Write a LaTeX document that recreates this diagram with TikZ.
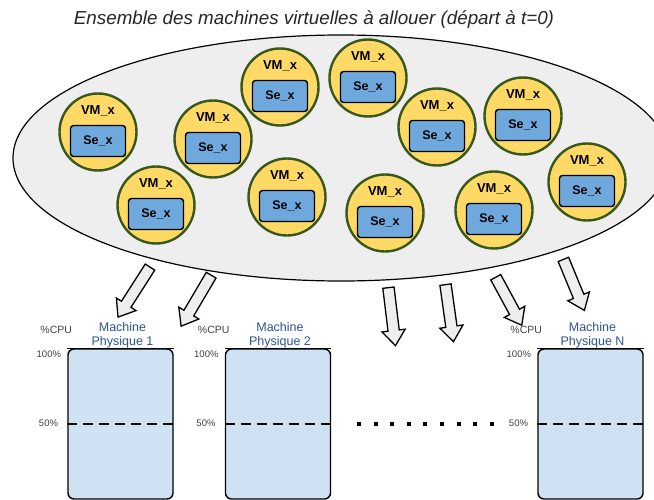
\documentclass[tikz,border=0pt]{standalone}
\usepackage{fontspec}
\setmainfont{Liberation Sans}
\usepackage{tikz}
\usetikzlibrary{positioning,shapes.arrows,shapes.geometric,calc}

\definecolor{vmfill}{HTML}{FFD966}
\definecolor{vmedge}{HTML}{38571A}
\definecolor{sefill}{HTML}{6FA8DC}
\definecolor{pmfill}{HTML}{CFE2F3}
\definecolor{pmtext}{HTML}{2B5592}
\definecolor{cloud}{HTML}{EEEEEE}

\begin{document}
\begin{tikzpicture}[x=1pt,y=-1pt,semithick]
\tikzstyle{vm}=[circle,fill=vmfill,draw=vmedge,line width=2.4pt,minimum size=77pt,inner sep=0pt]
\tikzstyle{se}=[rectangle,rounded corners=3pt,fill=sefill,draw=black,line width=1.4pt,minimum width=55pt,minimum height=31pt,inner sep=0pt,font=\fontsize{12.5pt}{14}\selectfont\bfseries]
\tikzstyle{vmlabel}=[inner sep=0pt,font=\fontsize{13pt}{15}\selectfont\bfseries]
\tikzstyle{machine}=[rectangle,rounded corners=6pt,fill=pmfill,draw=black,line width=1.4pt,minimum width=105pt,minimum height=150pt,inner sep=0pt]
\tikzstyle{pmname}=[align=center,text=pmtext,inner sep=0pt,font=\fontsize{12.5pt}{14}\selectfont]
\tikzstyle{small}=[text=black!75,inner sep=0pt,font=\fontsize{9.5pt}{10}\selectfont]
\tikzstyle{fleche}=[single arrow,draw=black,fill=cloud,line width=1.3pt,inner sep=5pt,single arrow head extend=6pt,single arrow tip angle=75]

\useasboundingbox (0,0) rectangle (654,500);
\clip (0,0) rectangle (654,500);

        \node[font=\fontsize{18.8pt}{21}\selectfont\itshape,text=black!85] (titre) at (314,20) {Ensemble des machines virtuelles à allouer (départ à t=0)};

        \node[ellipse,draw=black,fill=cloud,line width=1.2pt,minimum width=656pt,minimum height=246pt,inner sep=0pt] (E) at (341,158) {};

        % machines virtuelles
        \foreach \n/\x/\y in {1/98/132, 2/156/205, 3/213/139, 4/280/87, 5/287/197,
                             6/368/78, 7/437/127, 8/523/116, 9/587/182, 10/494/210, 11/385/213}{
        \node[vm]                                  (v\n)   at (\x,\y)         {};
        \node[vmlabel, node distance=21pt]         (l\n)   [above of=v\n]     {VM\_x};
        \node[se, node distance=9pt]               (s\n)   [below of=v\n]     {Se\_x};
        }

        % machines physiques
        \node[machine]                             (m1)    at (120.5,424)     {};
        \node[machine]                             (m2)    at (278,424)       {};
        \node[machine]                             (mN)    at (590.5,424)     {};

        \foreach \m/\t in {m1/1, m2/2, mN/N}{
        \draw[line width=1.4pt] (\m.north west) -- (\m.north east);
        \draw[line width=1.6pt, dash pattern=on 10pt off 6pt] (\m.west) -- (\m.east);
        \node[pmname]                              (n\m)   [above=0pt of \m.north, xshift=2pt] {Machine\\Physique \t};
        \node[small, anchor=east]                  (c\m)   at ($(\m.north west)+(-6,6)$) {100\%};
        \node[small, anchor=east]                  (h\m)   at ($(\m.west)+(-9,-1)$)      {50\%};
        \node[small, font=\fontsize{10.5pt}{11}\selectfont, anchor=east] (p\m) at ($(\m.north west)+(5,-18)$) {\%CPU};
        }

        % les points de suspension
        \foreach \i in {0,...,8}
        \fill (359+\i*16.6-2,422) rectangle ++(4,4);

        % fleches d'allocation
        \coordinate (a1) at (152,264);  \coordinate (b1) at (120,314);
        \coordinate (a2) at (213,272);  \coordinate (b2) at (183,323);
        \coordinate (a3) at (388,284);  \coordinate (b3) at (395,342);
        \coordinate (a4) at (445,281);  \coordinate (b4) at (453,338);
        \coordinate (a5) at (494,274);  \coordinate (b5) at (520,322);
        \coordinate (a6) at (562,256);  \coordinate (b6) at (583,307);

        \foreach \k in {1,...,6}
        \path let \p1=($(b\k)-(a\k)$), \n1={atan2(\y1,\x1)}, \n2={veclen(\x1,\y1)} in
              node[fleche, rotate=\n1, minimum height=\n2] (f\k) at ($(a\k)!0.5!(b\k)$) {};

\end{tikzpicture}
\end{document}
